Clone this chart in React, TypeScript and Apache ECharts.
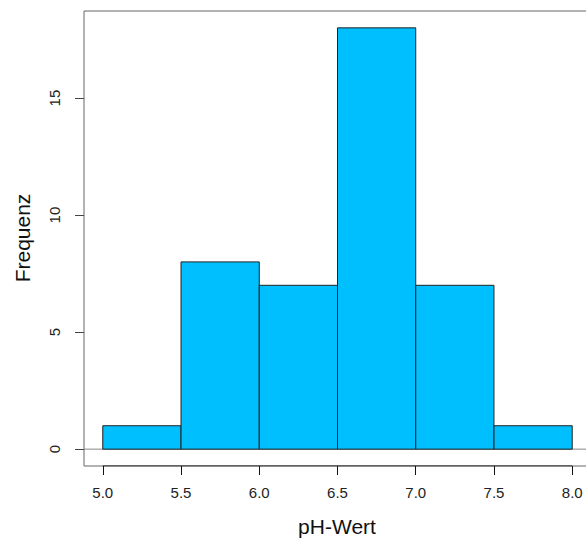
import React, { useEffect, useRef } from "react";
import * as echarts from "echarts";

const binStarts = [5.0, 5.5, 6.0, 6.5, 7.0, 7.5];
const binEnds = [5.5, 6.0, 6.5, 7.0, 7.5, 8.0];
const counts = [1, 8, 7, 18, 7, 1];
const xTicks = [5.0, 5.5, 6.0, 6.5, 7.0, 7.5, 8.0];
const yTicks = [0, 5, 10, 15];
const xTitle = "pH-Wert";
const yTitle = "Frequenz";

const FONT = "'Liberation Sans', Arial, sans-serif";

export default function App() {
  const ref = useRef<HTMLDivElement>(null);
  useEffect(() => {
    if (!ref.current) return;
    const chart = echarts.init(ref.current, undefined, { renderer: "svg" });
    const xMin = 5.0 - 0.04 * 3.0;
    const xMax = 8.0 + 0.04 * 3.0;
    const yMin = -0.04 * 18;
    const yMax = 18 + 0.04 * 18;
    const data = binStarts.map((s, i) => [s, binEnds[i], counts[i]]);
    chart.setOption({
      animation: false,
      grid: {
        left: 84,
        top: 11,
        right: 0,
        bottom: 76,
        show: true,
        borderColor: "#666",
        borderWidth: 1,
        backgroundColor: "transparent",
      },
      xAxis: {
        type: "value",
        min: xMin,
        max: xMax,
        splitLine: { show: false },
        axisLine: { show: false, onZero: false },
        axisTick: {
          show: true,
          customValues: xTicks,
          length: 9,
          inside: false,
          lineStyle: { color: "#111", width: 1 },
        },
        axisLabel: {
          customValues: xTicks,
          formatter: (v: number) => v.toFixed(1),
          fontSize: 15,
          fontFamily: FONT,
          color: "#222",
          margin: 19,
        },
      },
      yAxis: {
        type: "value",
        min: yMin,
        max: yMax,
        splitLine: { show: false },
        axisLine: { show: false, onZero: false },
        axisTick: {
          show: true,
          customValues: yTicks,
          length: 9,
          lineStyle: { color: "#444", width: 1 },
        },
        axisLabel: {
          customValues: yTicks,
          rotate: 90,
          fontSize: 15,
          fontFamily: FONT,
          color: "#222",
          margin: 22,
        },
      },
      graphic: [
        {
          type: "text",
          x: 337,
          y: 526,
          style: {
            text: xTitle,
            fontSize: 21,
            fontFamily: FONT,
            fill: "#111",
            textAlign: "center",
            textVerticalAlign: "middle",
          },
        },
        {
          type: "text",
          x: 22,
          y: 238,
          rotation: Math.PI / 2,
          style: {
            text: yTitle,
            fontSize: 21,
            fontFamily: FONT,
            fill: "#111",
            textAlign: "center",
            textVerticalAlign: "middle",
          },
        },
      ],
      series: [
        {
          type: "line",
          data: [
            [xMin, 0],
            [xMax, 0],
          ],
          symbol: "none",
          silent: true,
          z: 1,
          lineStyle: { color: "#888", width: 1 },
        },
        {
          type: "line",
          data: [
            [5.0, yMin],
            [8.0, yMin],
          ],
          symbol: "none",
          silent: true,
          z: 3,
          lineStyle: { color: "#111", width: 1 },
        },
        {
          type: "custom",
          z: 2,
          data,
          renderItem: (params: any, api: any) => {
            const p0 = api.coord([api.value(0), api.value(2)]);
            const p1 = api.coord([api.value(1), 0]);
            return {
              type: "rect",
              shape: {
                x: p0[0],
                y: p0[1],
                width: p1[0] - p0[0],
                height: p1[1] - p0[1],
              },
              style: {
                fill: "#00BFFF",
                stroke: "#222",
                lineWidth: 1,
              },
            };
          },
        },
      ],
    });
    return () => chart.dispose();
  }, []);
  return (
    <div
      ref={ref}
      style={{ position: "fixed", left: 0, top: 0, width: 591, height: 542, background: "#fff" }}
    />
  );
}
